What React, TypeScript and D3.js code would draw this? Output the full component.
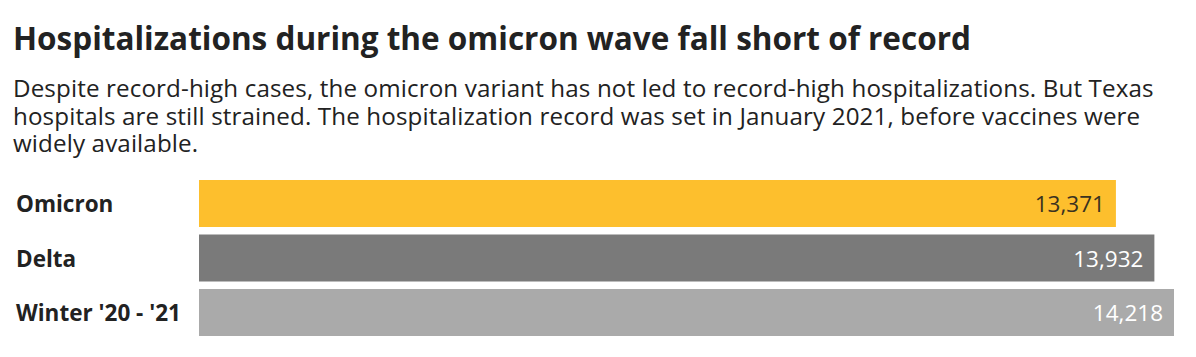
import React from "react";
import * as d3 from "d3";

const categories = ["Omicron", "Delta", "Winter '20 - '21"];
const values = [13371, 13932, 14218];
const colors = ["#fdbf2d", "#7a7a7a", "#aaaaaa"];
const valueTextColors = ["#3a3220", "#ffffff", "#ffffff"];

const title = "Hospitalizations during the omicron wave fall short of record";
const subtitleLines = [
  "Despite record-high cases, the omicron variant has not led to record-high hospitalizations. But Texas",
  "hospitals are still strained. The hospitalization record was set in January 2021, before vaccines were",
  "widely available.",
];

export default function App() {
  const W = 1196;
  const H = 357;
  const x = d3.scaleLinear().domain([0, 14218]).range([199, 1174]);
  const y = d3.scaleBand<string>().domain(categories).range([180, 336]).paddingInner(0.1376).paddingOuter(0);
  const fmt = d3.format(",");
  const font = "'Open Sans', 'Noto Sans', sans-serif";
  return (
    <svg
      width={W}
      height={H}
      style={{ position: "absolute", left: 0, top: 0, background: "#fff" }}
      fontFamily={font}
    >
      <text x={13} y={49.5} fontSize={31.5} fontWeight={700} fill="#222">
        {title}
      </text>
      {subtitleLines.map((l, i) => (
        <text key={i} x={13} y={97 + i * 27.5} fontSize={24.2} letterSpacing={0.12} fill="#222">
          {l}
        </text>
      ))}
      {categories.map((c, i) => {
        const y0 = y(c)!;
        const bh = y.bandwidth();
        return (
          <g key={c}>
            <text x={16} y={y0 + bh / 2 + 8.5} fontSize={22.5} fontWeight={700} fill="#222">
              {c}
            </text>
            <rect x={x(0)} y={y0} width={x(values[i]) - x(0)} height={bh} fill={colors[i]} />
            <text
              x={x(values[i]) - 11}
              y={y0 + bh / 2 + 8.5}
              fontSize={22.5}
              textAnchor="end"
              fill={valueTextColors[i]}
            >
              {fmt(values[i])}
            </text>
          </g>
        );
      })}
    </svg>
  );
}
